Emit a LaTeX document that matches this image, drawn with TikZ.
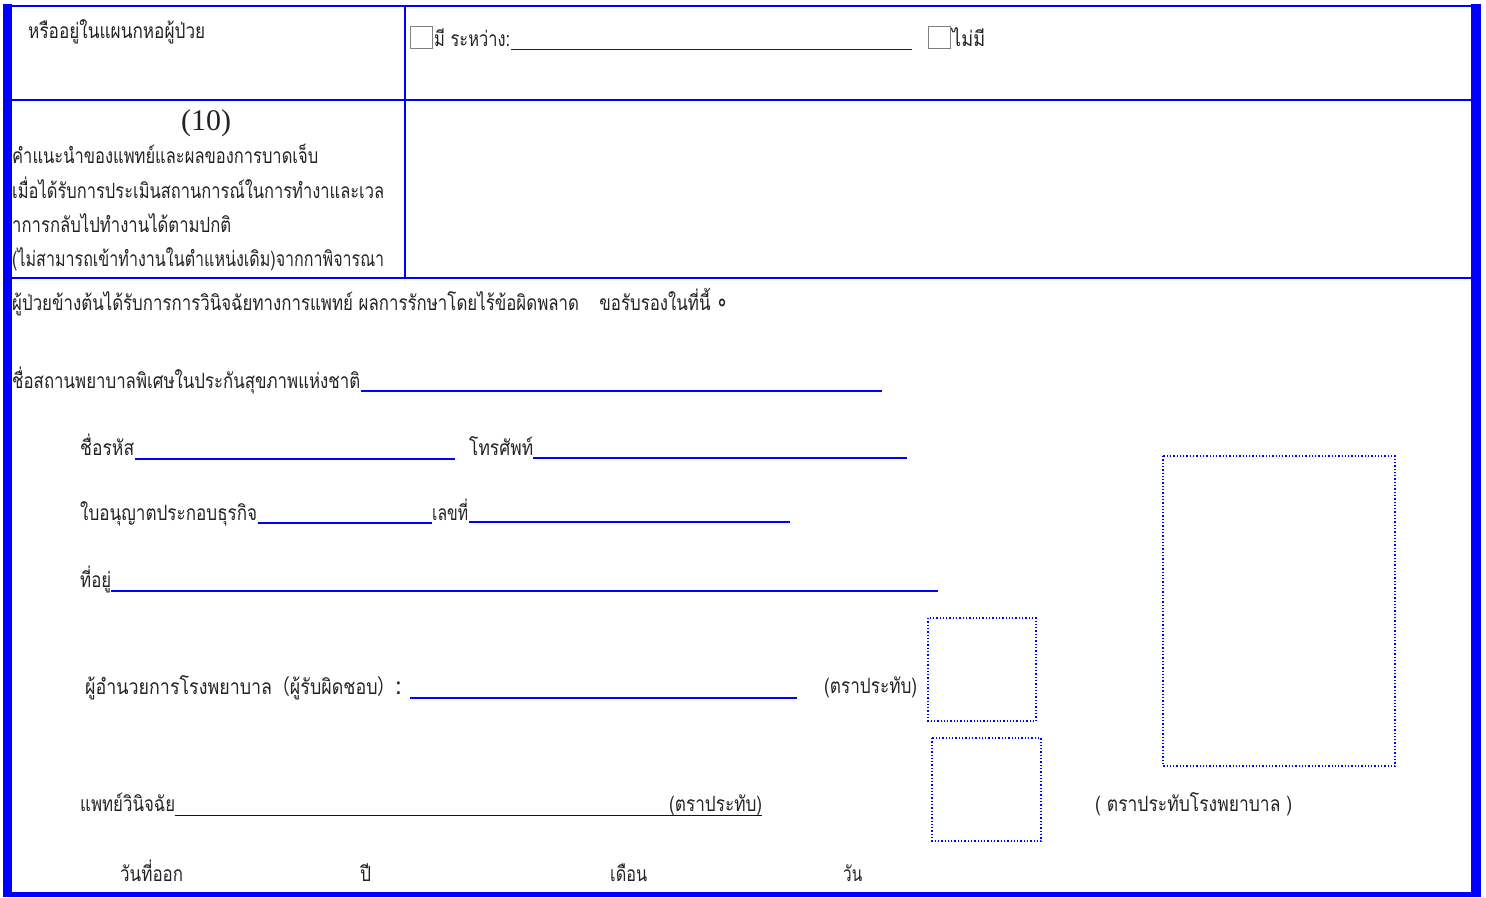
\documentclass[tikz,border=0pt]{standalone}
\usepackage{fontspec}
\usepackage{graphicx}
\setmainfont{Liberation Serif}
\newfontfamily\thaif[Script=Thai]{Loma}
\newfontfamily\djv{DejaVu Sans}
\newfontfamily\cjk{Noto Sans CJK SC}
\newcommand{\fw}[2]{\resizebox{#1pt}{\height}{#2}}
\definecolor{formblue}{RGB}{0,0,255}
\definecolor{ink}{RGB}{35,35,35}
\tikzset{
  lbl/.style={inner sep=0pt, anchor=base west, text=ink, font=\thaif\fontsize{21}{24}\selectfont},
  rule/.style={draw=formblue, line width=2pt},
  blankline/.style={draw=formblue, line width=2pt},
  darkline/.style={draw=ink, line width=0.8pt},
  thinblue/.style={draw=formblue!70!black, line width=1pt},
  stampbox/.style={draw=formblue, dotted, line width=1.3pt},
  chk/.style={draw=gray, line width=1pt, minimum width=22pt, minimum height=22pt, inner sep=0pt, anchor=north west},
  bar/.style={fill=formblue, draw=none}
}
\begin{document}
\begin{tikzpicture}[x=1pt,y=-1pt]
\useasboundingbox (0,0) rectangle (1486,897);
% frame
\fill[bar] (3,4) rectangle (12,897);
\fill[bar] (1471,4) rectangle (1481,897);
\fill[bar] (3,892) rectangle (1481,897);
\draw[rule] (3,5.5) -- (1481,5.5);
\draw[rule] (405,5) -- (405,278);
\draw[rule] (12,99.5) -- (1471,99.5);
\draw[rule] (12,278) -- (1471,278);

% row 1
\node[lbl] (ward) at (28,38) {\fw{177}{หรืออยู่ในแผนกหอผู้ป่วย}};
\node[chk] (cb1) at (410,26) {};
\node[lbl] (have) at (434,46) {\fw{76}{มี ระหว่าง:}};
\draw[darkline] (511,49) -- (912,49);
\node[chk] (cb2) at (928,26) {};
\node[lbl] (none) at (952,46) {\fw{33}{ไม่มี}};

% row 2
\node[inner sep=0pt, anchor=base, text=ink, font=\fontsize{30}{32}\selectfont] (num) at (206,130) {(10)};
\node[lbl] (l1) at (12,163) {\fw{306}{คำแนะนำของแพทย์และผลของการบาดเจ็บ}};
\node[lbl] (l2) at (12,198) {\fw{372}{เมื่อได้รับการประเมินสถานการณ์ในการทำงาและเวล}};
\node[lbl] (l3) at (12,232) {\fw{219}{าการกลับไปทำงานได้ตามปกติ}};
\node[lbl] (l4) at (12,266) {\fw{372}{(ไม่สามารถเข้าทำงานในตำแหน่งเดิม)จากกาพิจารณา}};

% certification
\node[lbl] (cert) at (12,310) {\fw{716}{ผู้ป่วยข้างต้นได้รับการการวินิจฉัยทางการแพทย์ ผลการรักษาโดยไร้ข้อผิดพลาด\hspace{1.2em}ขอรับรองในที่นี้ {\djv\bfseries\fontsize{24}{26}\selectfont ∘}}};

\node[lbl] (hosp) at (12,388) {\fw{348}{ชื่อสถานพยาบาลพิเศษในประกันสุขภาพแห่งชาติ}};
\draw[blankline] (361,391) -- (882,391);

\node[lbl] (code) at (80,455) {\fw{54}{ชื่อรหัส}};
\draw[blankline] (135,459) -- (455,459);
\node[lbl] (tel) at (469,455) {\fw{64}{โทรศัพท์}};
\draw[blankline] (533,458) -- (907,458);

\node[lbl] (lic) at (80,520) {\fw{177}{ใบอนุญาตประกอบธุรกิจ}};
\draw[blankline] (258,523) -- (432,523);
\node[lbl] (no) at (432,520) {\fw{36}{เลขที่}};
\draw[blankline] (469,522) -- (790,522);

\node[lbl] (addr) at (80,587) {\fw{31}{ที่อยู่}};
\draw[blankline] (111,591) -- (938,591);

\node[lbl] (dir) at (85,694) {\fw{316}{ผู้อำนวยการโรงพยาบาล{\cjk （}ผู้รับผิดชอบ{\cjk ）}{\bfseries\fontsize{24}{26}\selectfont :}}};
\draw[blankline] (410,698) -- (797,698);
\node[lbl] (seal1) at (824,693) {\fw{93}{(ตราประทับ)}};
\draw[stampbox] (928,618) rectangle (1036,721);

\node[lbl] (doc) at (80,811) {\fw{95}{แพทย์วินิจฉัย}};
\draw[thinblue] (175,815) -- (762,815);
\node[lbl] (seal2) at (669,811) {\fw{93}{(ตราประทับ)}};
\draw[stampbox] (932,738) rectangle (1041,841);

\draw[stampbox] (1163,456) rectangle (1395,766);
\node[lbl] (hseal) at (1095,811) {\fw{197}{( ตราประทับโรงพยาบาล )}};

\node[lbl] (date) at (120,881) {\fw{63}{วันที่ออก}};
\node[lbl] (yr) at (360,881) {\fw{11}{ปี}};
\node[lbl] (mon) at (610,881) {\fw{37}{เดือน}};
\node[lbl] (day) at (843,881) {\fw{19}{วัน}};
\end{tikzpicture}
\end{document}
